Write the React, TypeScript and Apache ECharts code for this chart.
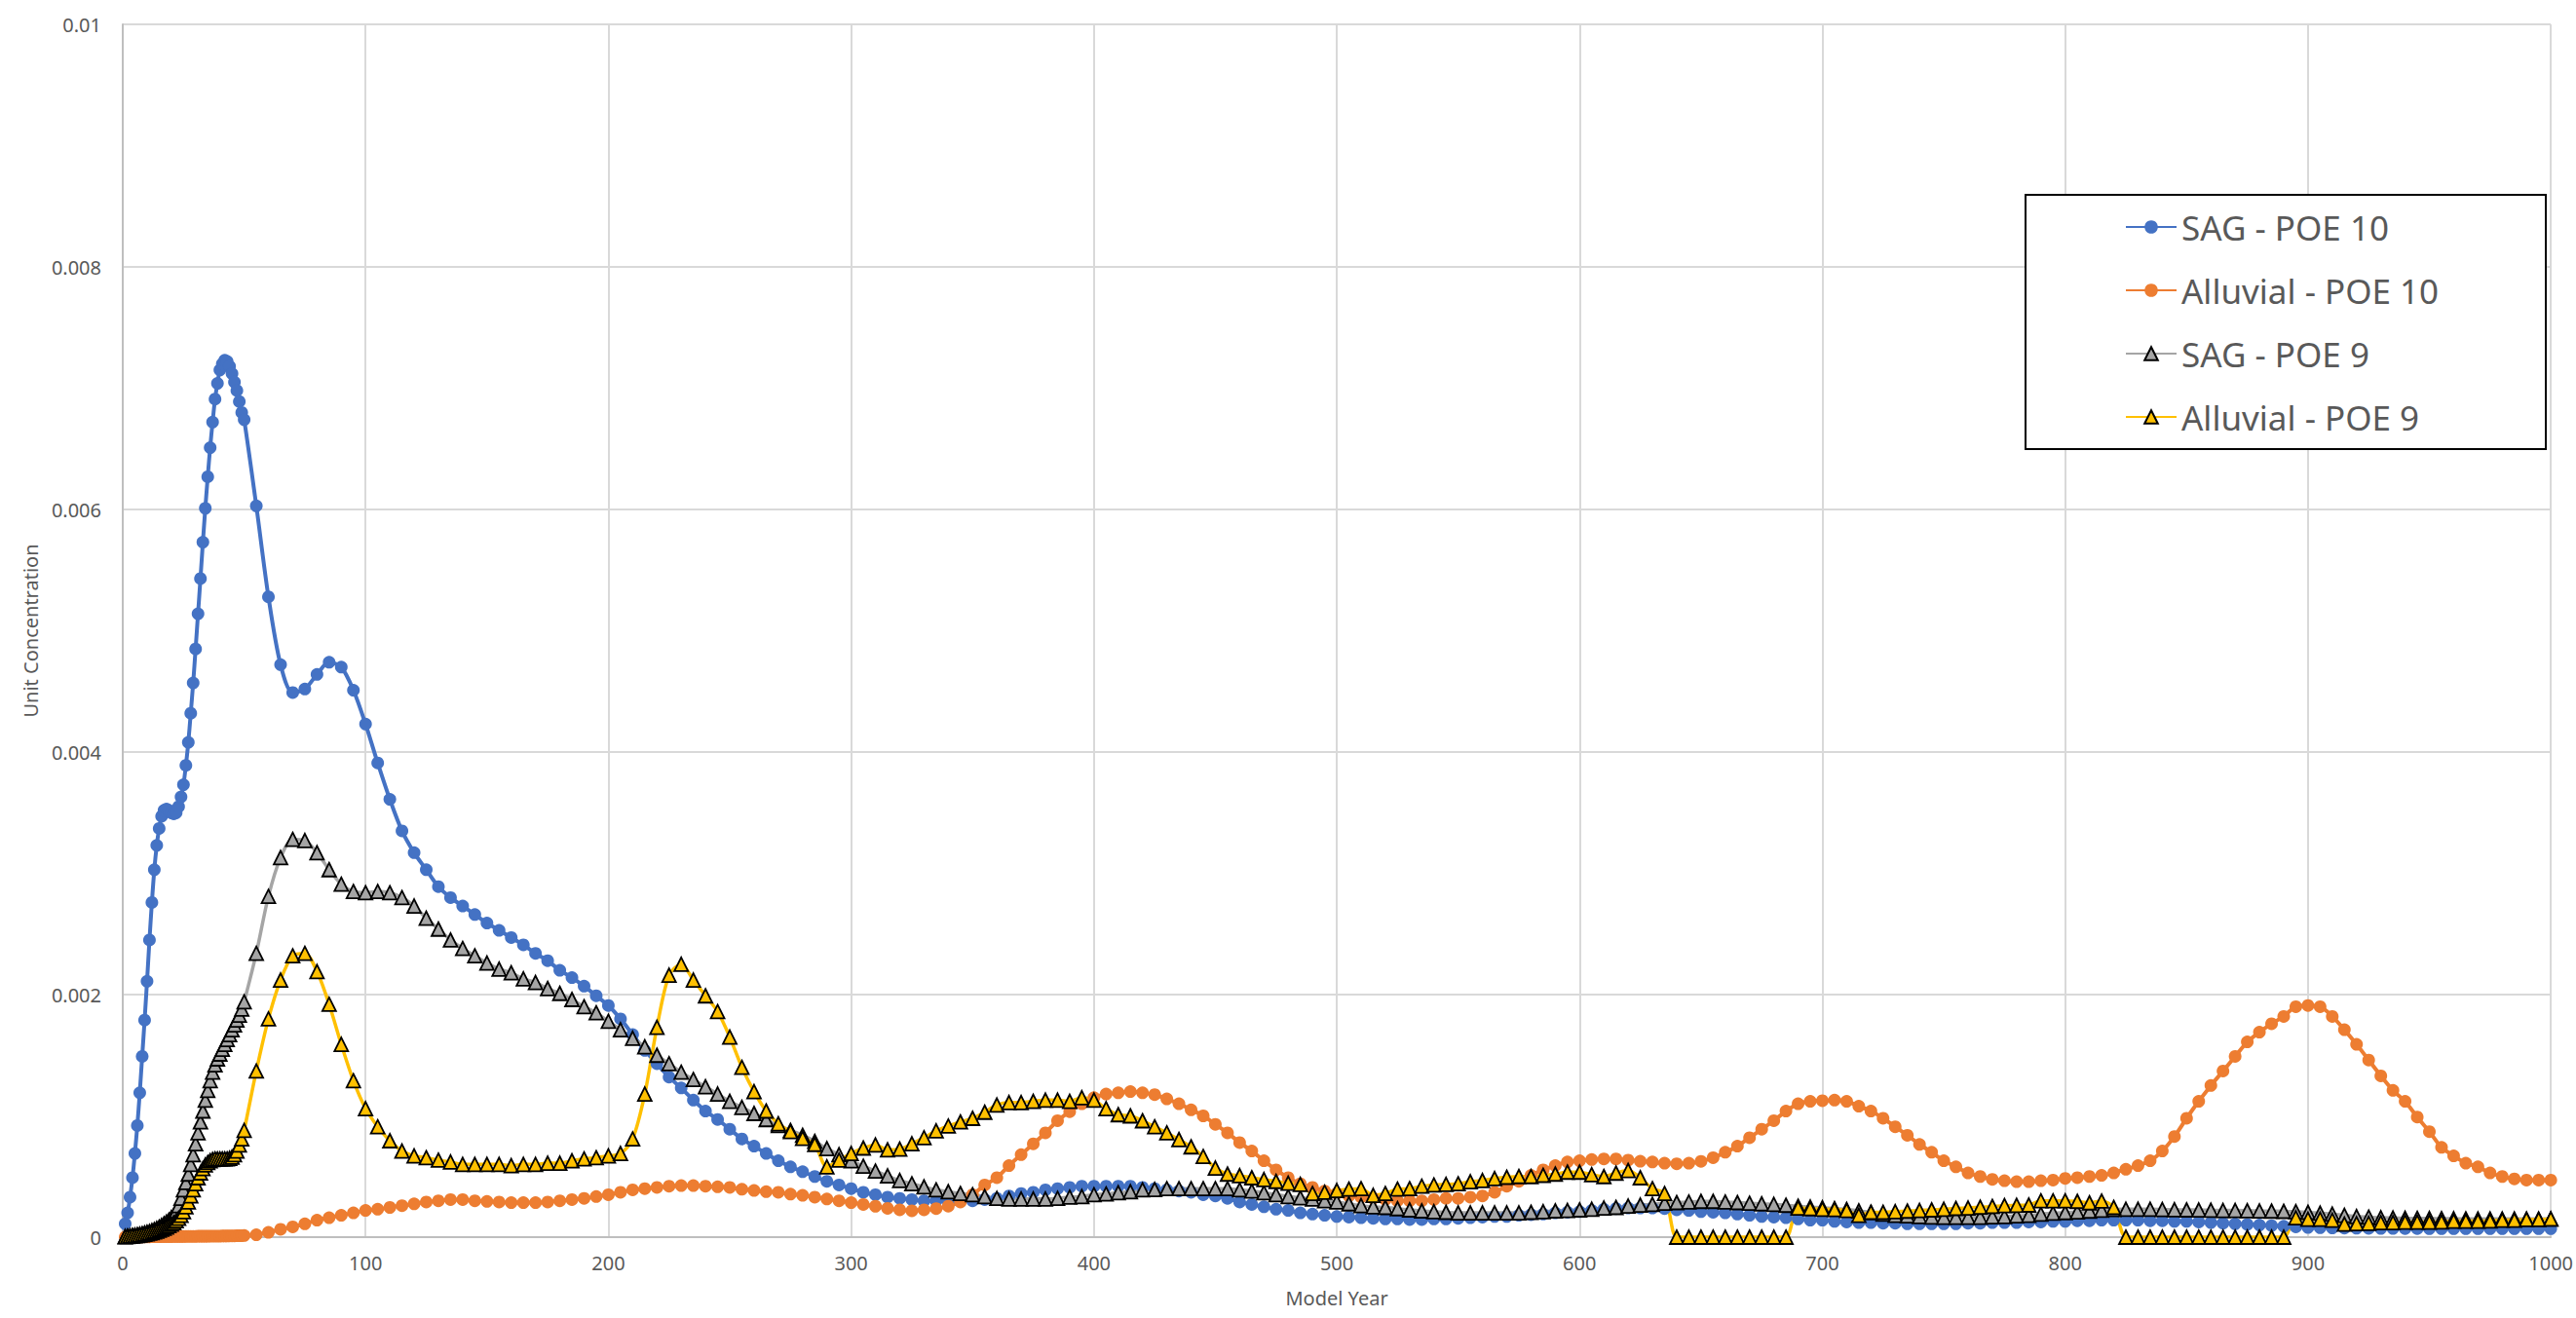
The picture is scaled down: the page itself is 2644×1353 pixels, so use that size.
import React, { useEffect, useRef } from "react";
import * as echarts from "echarts";

// Model years: annual 1..50, then every 5 years 55..1000
const YEARS = [
  1, 2, 3, 4, 5, 6, 7, 8, 9, 10,
  11, 12, 13, 14, 15, 16, 17, 18, 19, 20,
  21, 22, 23, 24, 25, 26, 27, 28, 29, 30,
  31, 32, 33, 34, 35, 36, 37, 38, 39, 40,
  41, 42, 43, 44, 45, 46, 47, 48, 49, 50,
  55, 60, 65, 70, 75, 80, 85, 90, 95, 100,
  105, 110, 115, 120, 125, 130, 135, 140, 145, 150,
  155, 160, 165, 170, 175, 180, 185, 190, 195, 200,
  205, 210, 215, 220, 225, 230, 235, 240, 245, 250,
  255, 260, 265, 270, 275, 280, 285, 290, 295, 300,
  305, 310, 315, 320, 325, 330, 335, 340, 345, 350,
  355, 360, 365, 370, 375, 380, 385, 390, 395, 400,
  405, 410, 415, 420, 425, 430, 435, 440, 445, 450,
  455, 460, 465, 470, 475, 480, 485, 490, 495, 500,
  505, 510, 515, 520, 525, 530, 535, 540, 545, 550,
  555, 560, 565, 570, 575, 580, 585, 590, 595, 600,
  605, 610, 615, 620, 625, 630, 635, 640, 645, 650,
  655, 660, 665, 670, 675, 680, 685, 690, 695, 700,
  705, 710, 715, 720, 725, 730, 735, 740, 745, 750,
  755, 760, 765, 770, 775, 780, 785, 790, 795, 800,
  805, 810, 815, 820, 825, 830, 835, 840, 845, 850,
  855, 860, 865, 870, 875, 880, 885, 890, 895, 900,
  905, 910, 915, 920, 925, 930, 935, 940, 945, 950,
  955, 960, 965, 970, 975, 980, 985, 990, 995, 1000,
];

// Values in units of 0.001 (x10^-3)
const SAG_POE10 = [
  0.11, 0.20, 0.33, 0.49, 0.69, 0.92, 1.19, 1.49, 1.79, 2.11,
  2.45, 2.76, 3.03, 3.23, 3.37, 3.47, 3.52, 3.53, 3.52, 3.50,
  3.49, 3.50, 3.55, 3.63, 3.73, 3.89, 4.08, 4.32, 4.57, 4.85,
  5.14, 5.43, 5.73, 6.01, 6.27, 6.51, 6.72, 6.91, 7.04, 7.15,
  7.20, 7.23, 7.22, 7.18, 7.12, 7.05, 6.98, 6.89, 6.80, 6.74,
  6.03, 5.28, 4.72, 4.49, 4.52, 4.64, 4.74, 4.70, 4.51, 4.23,
  3.91, 3.61, 3.35, 3.17, 3.03, 2.89, 2.80, 2.73, 2.66, 2.59,
  2.53, 2.47, 2.41, 2.34, 2.28, 2.20, 2.14, 2.07, 1.99, 1.91,
  1.80, 1.67, 1.54, 1.43, 1.32, 1.23, 1.13, 1.04, 0.97, 0.89,
  0.81, 0.75, 0.69, 0.63, 0.58, 0.54, 0.50, 0.46, 0.43, 0.40,
  0.37, 0.35, 0.33, 0.32, 0.31, 0.30, 0.30, 0.295, 0.30, 0.30,
  0.31, 0.32, 0.34, 0.36, 0.37, 0.39, 0.40, 0.41, 0.42, 0.42,
  0.42, 0.42, 0.42, 0.41, 0.40, 0.39, 0.38, 0.37, 0.35, 0.34,
  0.32, 0.29, 0.27, 0.25, 0.23, 0.22, 0.20, 0.19, 0.18, 0.17,
  0.165, 0.16, 0.155, 0.15, 0.15, 0.145, 0.145, 0.15, 0.15, 0.155,
  0.16, 0.165, 0.17, 0.17, 0.18, 0.185, 0.19, 0.20, 0.205, 0.21,
  0.22, 0.23, 0.235, 0.24, 0.24, 0.24, 0.235, 0.225, 0.22, 0.21,
  0.205, 0.20, 0.19, 0.18, 0.17, 0.165, 0.16, 0.15, 0.14, 0.14,
  0.13, 0.125, 0.12, 0.12, 0.115, 0.115, 0.11, 0.11, 0.11, 0.11,
  0.11, 0.115, 0.115, 0.12, 0.12, 0.12, 0.125, 0.125, 0.13, 0.13,
  0.135, 0.135, 0.14, 0.14, 0.14, 0.14, 0.135, 0.135, 0.13, 0.13,
  0.125, 0.12, 0.115, 0.11, 0.105, 0.10, 0.095, 0.09, 0.085, 0.08,
  0.078, 0.076, 0.075, 0.074, 0.073, 0.072, 0.072, 0.071, 0.071, 0.07,
  0.07, 0.07, 0.07, 0.07, 0.07, 0.07, 0.07, 0.07, 0.07, 0.07,
];

const ALLUVIAL_POE10 = [
  0.001, 0.001, 0.001, 0.002, 0.002, 0.002, 0.002, 0.003, 0.003, 0.003,
  0.003, 0.004, 0.004, 0.004, 0.004, 0.005, 0.005, 0.005, 0.005, 0.005,
  0.006, 0.006, 0.006, 0.006, 0.006, 0.007, 0.007, 0.007, 0.007, 0.007,
  0.008, 0.008, 0.008, 0.008, 0.008, 0.009, 0.009, 0.009, 0.009, 0.009,
  0.010, 0.010, 0.010, 0.011, 0.011, 0.011, 0.012, 0.012, 0.013, 0.014,
  0.02, 0.04, 0.065, 0.085, 0.11, 0.14, 0.16, 0.18, 0.20, 0.22,
  0.23, 0.245, 0.26, 0.275, 0.29, 0.30, 0.31, 0.31, 0.30, 0.295,
  0.29, 0.285, 0.285, 0.285, 0.29, 0.30, 0.31, 0.32, 0.335, 0.35,
  0.37, 0.39, 0.40, 0.41, 0.42, 0.425, 0.425, 0.42, 0.415, 0.41,
  0.395, 0.385, 0.375, 0.37, 0.355, 0.345, 0.33, 0.315, 0.30, 0.285,
  0.27, 0.255, 0.237, 0.225, 0.217, 0.225, 0.235, 0.256, 0.29, 0.35,
  0.43, 0.49, 0.59, 0.68, 0.77, 0.86, 0.96, 1.035, 1.10, 1.15,
  1.18, 1.19, 1.20, 1.19, 1.175, 1.14, 1.10, 1.05, 1.00, 0.93,
  0.86, 0.78, 0.71, 0.63, 0.555, 0.49, 0.44, 0.41, 0.38, 0.36,
  0.34, 0.33, 0.32, 0.31, 0.30, 0.30, 0.30, 0.31, 0.32, 0.32,
  0.33, 0.34, 0.37, 0.42, 0.46, 0.51, 0.555, 0.59, 0.62, 0.63,
  0.64, 0.645, 0.645, 0.635, 0.626, 0.62, 0.61, 0.605, 0.61, 0.625,
  0.655, 0.70, 0.75, 0.82, 0.89, 0.96, 1.04, 1.10, 1.12, 1.125,
  1.13, 1.12, 1.08, 1.04, 0.98, 0.91, 0.84, 0.765, 0.70, 0.63,
  0.58, 0.53, 0.50, 0.476, 0.465, 0.457, 0.457, 0.465, 0.47, 0.484,
  0.49, 0.50, 0.51, 0.53, 0.56, 0.59, 0.63, 0.71, 0.83, 0.98,
  1.12, 1.25, 1.37, 1.49, 1.61, 1.69, 1.76, 1.82, 1.90, 1.91,
  1.90, 1.82, 1.71, 1.59, 1.46, 1.33, 1.21, 1.12, 0.99, 0.87,
  0.74, 0.67, 0.61, 0.58, 0.53, 0.50, 0.48, 0.47, 0.47, 0.47,
];

const SAG_POE9 = [
  0.005, 0.008, 0.01, 0.013, 0.016, 0.02, 0.024, 0.029, 0.034, 0.04,
  0.046, 0.054, 0.062, 0.072, 0.083, 0.096, 0.11, 0.125, 0.14, 0.16,
  0.18, 0.21, 0.26, 0.32, 0.39, 0.45, 0.52, 0.60, 0.68, 0.77,
  0.86, 0.95, 1.04, 1.13, 1.21, 1.29, 1.36, 1.42, 1.47, 1.51,
  1.55, 1.59, 1.63, 1.67, 1.71, 1.75, 1.79, 1.83, 1.88, 1.94,
  2.34, 2.81, 3.13, 3.28, 3.27, 3.17, 3.03, 2.91, 2.85, 2.84,
  2.85, 2.84, 2.80, 2.73, 2.63, 2.54, 2.45, 2.38, 2.32, 2.26,
  2.21, 2.18, 2.13, 2.10, 2.05, 2.01, 1.96, 1.90, 1.85, 1.78,
  1.71, 1.64, 1.57, 1.50, 1.43, 1.36, 1.30, 1.24, 1.18, 1.12,
  1.07, 1.02, 0.97, 0.92, 0.88, 0.84, 0.79, 0.73, 0.68, 0.63,
  0.585, 0.545, 0.505, 0.467, 0.44, 0.415, 0.39, 0.375, 0.36, 0.35,
  0.335, 0.32, 0.315, 0.315, 0.315, 0.315, 0.32, 0.33, 0.335, 0.35,
  0.356, 0.367, 0.375, 0.39, 0.393, 0.40, 0.40, 0.40, 0.40, 0.40,
  0.40, 0.39, 0.38, 0.367, 0.35, 0.335, 0.325, 0.315, 0.30, 0.29,
  0.275, 0.26, 0.25, 0.245, 0.235, 0.225, 0.217, 0.21, 0.205, 0.20,
  0.20, 0.20, 0.20, 0.20, 0.20, 0.205, 0.21, 0.217, 0.22, 0.225,
  0.23, 0.24, 0.245, 0.256, 0.264, 0.27, 0.28, 0.285, 0.29, 0.295,
  0.295, 0.29, 0.285, 0.28, 0.275, 0.27, 0.263, 0.255, 0.248, 0.242,
  0.235, 0.228, 0.217, 0.205, 0.19, 0.18, 0.175, 0.17, 0.165, 0.163,
  0.163, 0.163, 0.163, 0.168, 0.17, 0.176, 0.18, 0.19, 0.198, 0.203,
  0.208, 0.215, 0.222, 0.228, 0.23, 0.23, 0.23, 0.228, 0.226, 0.225,
  0.224, 0.222, 0.22, 0.22, 0.218, 0.216, 0.215, 0.213, 0.21, 0.205,
  0.198, 0.19, 0.18, 0.17, 0.165, 0.16, 0.158, 0.156, 0.155, 0.154,
  0.153, 0.152, 0.151, 0.15, 0.15, 0.15, 0.15, 0.15, 0.15, 0.15,
];

const ALLUVIAL_POE9 = [
  0.003, 0.005, 0.007, 0.009, 0.011, 0.014, 0.017, 0.02, 0.024, 0.028,
  0.033, 0.038, 0.044, 0.05, 0.057, 0.065, 0.074, 0.084, 0.095, 0.107,
  0.12, 0.135, 0.155, 0.18, 0.21, 0.25, 0.29, 0.34, 0.39, 0.44,
  0.49, 0.53, 0.565, 0.595, 0.615, 0.63, 0.64, 0.645, 0.645, 0.645,
  0.645, 0.645, 0.645, 0.65, 0.66, 0.68, 0.71, 0.76, 0.81, 0.88,
  1.37, 1.80, 2.12, 2.32, 2.34, 2.19, 1.92, 1.59, 1.29, 1.06,
  0.91, 0.795, 0.71, 0.67, 0.655, 0.635, 0.62, 0.60, 0.60, 0.60,
  0.60, 0.59, 0.60, 0.60, 0.61, 0.61, 0.63, 0.645, 0.655, 0.67,
  0.69, 0.81, 1.18, 1.73, 2.16, 2.25, 2.12, 1.99, 1.86, 1.65,
  1.40, 1.20, 1.04, 0.935, 0.87, 0.815, 0.765, 0.58, 0.635, 0.69,
  0.735, 0.76, 0.72, 0.726, 0.77, 0.82, 0.877, 0.916, 0.95, 0.98,
  1.03, 1.09, 1.11, 1.11, 1.12, 1.13, 1.13, 1.12, 1.15, 1.13,
  1.06, 1.01, 1.00, 0.96, 0.91, 0.86, 0.805, 0.745, 0.665, 0.57,
  0.52, 0.507, 0.49, 0.475, 0.46, 0.445, 0.435, 0.36, 0.37, 0.385,
  0.396, 0.40, 0.345, 0.36, 0.396, 0.40, 0.42, 0.43, 0.435, 0.44,
  0.457, 0.467, 0.483, 0.494, 0.50, 0.50, 0.51, 0.52, 0.536, 0.536,
  0.515, 0.50, 0.528, 0.55, 0.49, 0.40, 0.36, 0, 0, 0,
  0, 0, 0, 0, 0, 0, 0, 0.24, 0.235, 0.23,
  0.228, 0.22, 0.18, 0.205, 0.205, 0.21, 0.215, 0.22, 0.225, 0.23,
  0.237, 0.24, 0.247, 0.253, 0.26, 0.262, 0.265, 0.30, 0.30, 0.30,
  0.295, 0.283, 0.298, 0.245, 0, 0, 0, 0, 0, 0,
  0, 0, 0, 0, 0, 0, 0, 0, 0.16, 0.148,
  0.148, 0.14, 0.108, 0.112, 0.114, 0.119, 0.12, 0.124, 0.124, 0.124,
  0.125, 0.132, 0.132, 0.132, 0.134, 0.14, 0.14, 0.145, 0.145, 0.15,
];

const SERIES_NAMES = ["SAG - POE 10", "Alluvial - POE 10", "SAG - POE 9", "Alluvial - POE 9"];
const VALUE_UNIT = 0.001;

const FONT = "'Noto Sans', 'Liberation Sans', sans-serif";
const TEXT_COLOR = "#595959";

function pairs(vals: number[]) {
  return YEARS.map((y, i) => [y, vals[i] * VALUE_UNIT]);
}

export default function App() {
  const ref = useRef<HTMLDivElement>(null);

  useEffect(() => {
    if (!ref.current) return;
    const chart = echarts.init(ref.current, undefined, { renderer: "svg" });

    const circleSeries = (name: string, vals: number[], color: string) => ({
      name,
      type: "line",
      data: pairs(vals),
      smooth: 0.3,
      symbol: "circle",
      symbolSize: 13,
      showAllSymbol: true,
      lineStyle: { color, width: 4 },
      itemStyle: { color, borderColor: color, borderWidth: 0 },
      emphasis: { disabled: true },
    });
    const triSeries = (name: string, vals: number[], color: string) => ({
      name,
      type: "line",
      data: pairs(vals),
      smooth: 0.3,
      symbol: "triangle",
      symbolSize: 14,
      showAllSymbol: true,
      lineStyle: { color, width: 3.5 },
      itemStyle: { color, borderColor: "#000000", borderWidth: 1.8 },
      emphasis: { disabled: true },
    });

    chart.setOption({
      animation: false,
      backgroundColor: "#ffffff",
      textStyle: { fontFamily: FONT },
      grid: { left: 126, right: 22, top: 25, bottom: 83, containLabel: false },
      xAxis: {
        type: "value",
        min: 0,
        max: 1000,
        interval: 100,
        name: "Model Year",
        nameLocation: "middle",
        nameGap: 52,
        nameTextStyle: { fontSize: 20, color: TEXT_COLOR, fontFamily: FONT },
        axisLine: { show: true, onZero: false, lineStyle: { color: "#BFBFBF", width: 2 } },
        axisTick: { show: false },
        axisLabel: {
          fontSize: 20,
          color: TEXT_COLOR,
          margin: 16,
          fontFamily: FONT,
          formatter: (v: number) => String(v),
        },
        splitLine: { show: true, lineStyle: { color: "#D9D9D9", width: 2 } },
      },
      yAxis: {
        type: "value",
        min: 0,
        max: 0.01,
        interval: 0.002,
        name: "Unit Concentration",
        nameLocation: "middle",
        nameGap: 84,
        nameTextStyle: { fontSize: 20, color: TEXT_COLOR, fontFamily: FONT },
        axisLine: { show: true, lineStyle: { color: "#BFBFBF", width: 2 } },
        axisTick: { show: false },
        axisLabel: {
          fontSize: 20,
          color: TEXT_COLOR,
          margin: 22,
          fontFamily: FONT,
          formatter: (v: number) => (v === 0 ? "0" : String(+v.toFixed(3))),
        },
        splitLine: { show: true, lineStyle: { color: "#D9D9D9", width: 2 } },
      },
      graphic: [
        {
          type: "rect",
          z: 1,
          shape: { x: 2079, y: 200, width: 534, height: 261 },
          style: { fill: "#ffffff", stroke: "#000000", lineWidth: 2 },
          silent: true,
        },
      ],
      legend: {
        orient: "vertical",
        left: 2181,
        top: 213,
        padding: 0,
        itemWidth: 52,
        itemHeight: 17,
        itemGap: 25,
        z: 5,
        data: SERIES_NAMES,
        textStyle: { fontSize: 35, color: TEXT_COLOR, lineHeight: 40, fontFamily: FONT },
      },
      series: [
        circleSeries(SERIES_NAMES[0], SAG_POE10, "#4472C4"),
        circleSeries(SERIES_NAMES[1], ALLUVIAL_POE10, "#ED7D31"),
        triSeries(SERIES_NAMES[2], SAG_POE9, "#A5A5A5"),
        triSeries(SERIES_NAMES[3], ALLUVIAL_POE9, "#FFC000"),
      ],
    });

    return () => chart.dispose();
  }, []);

  return (
    <div
      ref={ref}
      style={{ position: "absolute", left: 0, top: 0, width: 2644, height: 1353 }}
    />
  );
}
